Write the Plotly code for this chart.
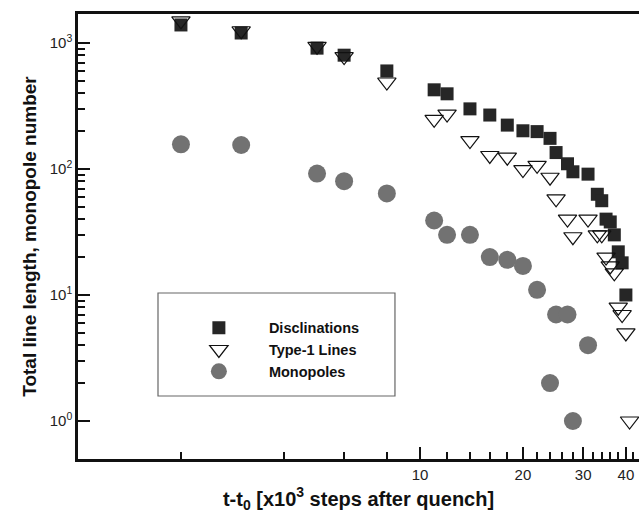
import plotly.graph_objects as go

# ---- data ----
disc_t = [2, 3, 5, 6, 8, 11, 12, 14, 16, 18, 20, 22, 24, 25, 27, 28, 31, 33, 34, 35, 36, 37, 38, 39, 40]
disc_n = [1390, 1200, 910, 800, 600, 425, 395, 300, 268, 223, 201, 198, 175, 135, 110, 95, 91, 63, 56, 40, 38, 30, 22, 18, 10]

type1_t = [2, 3, 5, 6, 8, 11, 12, 14, 16, 18, 20, 22, 24, 25, 27, 28, 31, 33, 34, 35, 36, 37, 38, 39, 40, 41]
type1_n = [1500, 1250, 940, 780, 490, 248, 273, 168, 128, 124, 99, 107, 86, 58, 40, 29, 40, 30, 30, 20, 17, 15, 8, 7, 5, 1]

mono_t = [2, 3, 5, 6, 8, 11, 12, 14, 16, 18, 20, 22, 24, 25, 27, 28, 31]
mono_n = [157, 155, 92, 80, 64, 39, 30, 30, 20, 19, 17, 11, 2, 7, 7, 1, 4]

x_major = [10, 20, 30, 40]
x_major_labels = ["10", "20", "30", "40"]
x_minor = [2, 4, 6, 8, 12, 14, 16, 18, 22, 24, 26, 28, 32, 34, 36, 38, 42]
y_major = [1, 10, 100, 1000]
y_major_labels = ["10<sup>0</sup>", "10<sup>1</sup>", "10<sup>2</sup>", "10<sup>3</sup>"]
y_minor = [m * 10 ** e for e in range(0, 3) for m in range(2, 10)]

FONT = "Liberation Sans, Arial, sans-serif"

fig = go.Figure()
fig.add_trace(go.Scatter(
    x=disc_t, y=disc_n, mode="markers", name="Disclinations", legendrank=1,
    marker=dict(symbol="square", size=13, color="#262626", line=dict(width=0)),
))
fig.add_trace(go.Scatter(
    x=mono_t, y=mono_n, mode="markers", name="Monopoles", legendrank=3,
    marker=dict(symbol="circle", size=18, color="#727272", line=dict(width=0)),
))
fig.add_trace(go.Scatter(
    x=type1_t, y=type1_n, mode="markers", name="Type-1 Lines", legendrank=2,
    marker=dict(symbol="triangle-down-open", size=16, color="#111111", line=dict(width=1.2)),
))

# legend frame
fig.add_shape(type="rect", xref="paper", yref="paper",
              x0=0.1426, x1=0.565, y0=0.1416, y1=0.373,
              line=dict(color="#666666", width=1.2), fillcolor="rgba(0,0,0,0)")

fig.update_layout(
    width=639, height=513,
    margin=dict(l=78, r=0, t=14, b=54),
    paper_bgcolor="white", plot_bgcolor="white",
    font=dict(family=FONT, color="#222222", size=15),
    showlegend=True,
    legend=dict(
        x=0.162, y=0.331, xanchor="left", yanchor="top",
        bgcolor="rgba(0,0,0,0)", borderwidth=0,
        font=dict(family=FONT, size=14.5, color="#111111", weight="bold"),
        itemwidth=90, tracegroupgap=0,
    ),
    xaxis=dict(
        type="log", range=[0, 1.6404],
        tickmode="array", tickvals=x_major, ticktext=x_major_labels,
        ticks="inside", ticklen=12, tickwidth=2, tickcolor="#111111",
        minor=dict(tickmode="array", tickvals=x_minor, ticks="inside",
                   ticklen=7, tickwidth=1.5, tickcolor="#111111", showgrid=False),
        showline=True, linecolor="#111111", linewidth=2.5, mirror=True,
        showgrid=False, zeroline=False,
        tickfont=dict(family=FONT, size=15, color="#222222"),
        title=dict(text="t-t<sub>0</sub> [x10<sup>3</sup> steps after quench]",
                   font=dict(family=FONT, size=20, color="#111111", weight="bold"),
                   standoff=11),
    ),
    yaxis=dict(
        type="log", range=[-0.3016, 3.230],
        tickmode="array", tickvals=y_major, ticktext=y_major_labels,
        ticks="inside", ticklen=12, tickwidth=2, tickcolor="#111111",
        minor=dict(tickmode="array", tickvals=y_minor, ticks="inside",
                   ticklen=7, tickwidth=1.5, tickcolor="#111111", showgrid=False),
        showline=True, linecolor="#111111", linewidth=2.5,
        showgrid=False, zeroline=False,
        tickfont=dict(family=FONT, size=15, color="#222222"),
        title=dict(text="Total line length, monopole number",
                   font=dict(family=FONT, size=19, color="#111111", weight="bold"),
                   standoff=9),
    ),
)

fig.write_html("out.html")
